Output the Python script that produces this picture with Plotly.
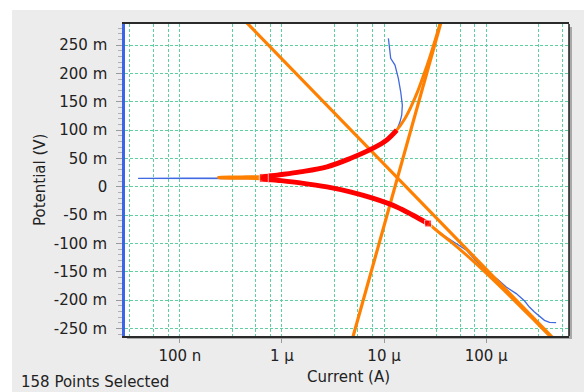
import plotly.graph_objects as go

# ---------------- data ----------------
# measured scan (blue): current (A), potential (V)
blue_current = [4.84e-4, 4.17e-4, 3.72e-4, 3.33e-4, 2.97e-4, 2.65e-4, 2.38e-4, 1.97e-4,
                1.57e-4, 1.30e-4, 1.08e-4, 9.31e-5, 6.41e-5, 5.12e-5, 3.41e-5,
                2.70e-5, 1.92e-5, 1.33e-5, 7.87e-6, 4.66e-6, 2.76e-6, 1.51e-6, 8.97e-7, 6.64e-7,
                2.4e-7, 3.9e-8, 1.2e-7, 2.4e-7, 6.64e-7,
                8.97e-7, 1.51e-6, 2.76e-6, 4.66e-6, 7.82e-6, 1.06e-5, 1.33e-5,
                1.432e-5, 1.489e-5, 1.510e-5, 1.455e-5, 1.380e-5, 1.279e-5, 1.161e-5, 1.127e-5, 1.102e-5]
blue_potential = [-0.2400, -0.2394, -0.2359, -0.2288, -0.2212, -0.2124, -0.2018, -0.1887,
                  -0.1770, -0.1640, -0.1534, -0.1445, -0.1122, -0.1004, -0.0800,
                  -0.0650, -0.0504, -0.0357, -0.0208, -0.0092, -0.0004, 0.0067, 0.0115, 0.0140,
                  0.0146, 0.0148, 0.0149, 0.0151, 0.0165,
                  0.0203, 0.0261, 0.0350, 0.0498, 0.0680, 0.0822, 0.0998,
                  0.1145, 0.1263, 0.1440, 0.1675, 0.1912, 0.2147, 0.2265, 0.2470, 0.2618]

# selected points (red)
red_current = [2.70e-5, 1.92e-5, 1.33e-5, 7.87e-6, 4.66e-6, 2.76e-6, 1.51e-6, 8.97e-7, 6.64e-7,
               6.64e-7, 8.97e-7, 1.51e-6, 2.76e-6, 4.66e-6, 7.82e-6, 1.06e-5, 1.33e-5]
red_potential = [-0.0650, -0.0504, -0.0357, -0.0208, -0.0092, -0.0004, 0.0067, 0.0115, 0.0140,
                 0.0170, 0.0203, 0.0261, 0.0350, 0.0498, 0.0680, 0.0822, 0.0998]

# selection end markers
mark_current = [6.64e-7, 2.70e-5]
mark_potential = [0.0155, -0.0650]

# fitted curve (orange)
fit_current = [4.22e-4, 3.54e-4, 2.415e-4, 1.644e-4, 1.107e-4, 7.33e-5, 4.71e-5, 3.41e-5,
               2.70e-5, 1.92e-5, 1.33e-5, 7.87e-6, 4.66e-6, 2.76e-6, 1.51e-6, 8.97e-7, 6.64e-7,
               4.0e-7, 2.4e-7, 2.4e-7, 4.0e-7, 6.64e-7,
               8.97e-7, 1.51e-6, 2.76e-6, 4.66e-6, 7.82e-6, 1.06e-5, 1.33e-5,
               1.596e-5, 1.824e-5, 2.153e-5, 2.477e-5, 2.82e-5, 3.18e-5, 3.52e-5, 3.6e-5]
fit_potential = [-0.264, -0.250, -0.220, -0.190, -0.160, -0.130, -0.100, -0.080,
                 -0.0650, -0.0504, -0.0357, -0.0208, -0.0092, -0.0004, 0.0067, 0.0115, 0.0140,
                 0.0150, 0.0158, 0.0166, 0.0172, 0.0180,
                 0.0203, 0.0261, 0.0350, 0.0498, 0.0680, 0.0822, 0.0998,
                 0.120, 0.140, 0.170, 0.200, 0.230, 0.260, 0.287, 0.295]

# Tafel lines (orange)
anodic_current = [4.375e-6, 3.74e-5]
anodic_potential = [-0.30, 0.30]
cathodic_current = [3.96e-7, 6.79e-4]
cathodic_potential = [0.30, -0.30]

# axes
x_tickvals = [1e-7, 1e-6, 1e-5, 1e-4]
x_ticktext = ["100 n", "1 µ", "10 µ", "100 µ"]
x_gridvals = [3.25e-8, 5.55e-8, 7.75e-8,
              3.25e-7, 5.55e-7, 7.75e-7,
              3.25e-6, 5.55e-6, 7.75e-6,
              3.25e-5, 5.55e-5, 7.75e-5,
              3.25e-4, 5.55e-4]
y_tickvals = [0.25, 0.20, 0.15, 0.10, 0.05, 0.0, -0.05, -0.10, -0.15, -0.20, -0.25]
y_ticktext = ["250 m", "200 m", "150 m", "100 m", "50 m", "0",
              "-50 m", "-100 m", "-150 m", "-200 m", "-250 m"]

# ---------------- figure ----------------
W, H = 587, 392
L, R, T, B = 125, 18, 24, 56
PW, PH = W - L - R, H - T - B

def px(x):
    return (x - L) / PW

def py(y):
    return (H - B - y) / PH

ORANGE = "#ff8000"
fig = go.Figure()
fig.add_trace(go.Scatter(x=blue_current, y=blue_potential, mode="lines",
                         line=dict(color="#4169e1", width=1.3), showlegend=False))
fig.add_trace(go.Scatter(x=anodic_current, y=anodic_potential, mode="lines",
                         line=dict(color=ORANGE, width=3.2), showlegend=False))
fig.add_trace(go.Scatter(x=cathodic_current, y=cathodic_potential, mode="lines",
                         line=dict(color=ORANGE, width=3.2), showlegend=False))
fig.add_trace(go.Scatter(x=fit_current, y=fit_potential, mode="lines",
                         line=dict(color=ORANGE, width=3, shape="spline", smoothing=0.8),
                         showlegend=False))
fig.add_trace(go.Scatter(x=red_current, y=red_potential, mode="lines",
                         line=dict(color="#ff0000", width=5, shape="spline", smoothing=1),
                         showlegend=False))
fig.add_trace(go.Scatter(x=mark_current, y=mark_potential, mode="markers",
                         marker=dict(color="#ff0000", symbol="square", size=[9, 7]),
                         showlegend=False))

GRID = "#5fcf9f"
fig.update_xaxes(type="log", range=[-7.537, -3.189],
                 tickvals=x_tickvals, ticktext=x_ticktext,
                 ticks="outside", ticklen=5, tickcolor="#9a9a9a", tickwidth=1,
                 showgrid=True, gridcolor=GRID, griddash="3px,2px", gridwidth=1,
                 minor=dict(tickvals=x_gridvals, showgrid=True, gridcolor=GRID,
                            griddash="3px,2px", gridwidth=1, ticks=""),
                 showline=True, linecolor="#2a2a2a", linewidth=2, mirror=True,
                 zeroline=False, ticklabelstandoff=0)
fig.update_yaxes(range=[-0.2635, 0.2871],
                 tickvals=y_tickvals, ticktext=y_ticktext,
                 ticks="outside", ticklen=6, tickcolor="#9a9a9a", tickwidth=1,
                 minor=dict(dtick=0.01, tick0=0, ticks="outside", ticklen=4,
                            tickcolor="#b0b0b0", showgrid=False),
                 showgrid=True, gridcolor=GRID, griddash="3px,2px", gridwidth=1,
                 showline=True, linecolor="#3c64e6", linewidth=2.5,
                 zeroline=False, ticklabelstandoff=6)

shapes = [
    dict(type="rect", xref="paper", yref="paper", x0=px(12), x1=px(584), y0=py(392), y1=py(10),
         fillcolor="#ececec", line=dict(width=0), layer="below"),
    dict(type="rect", xref="paper", yref="paper", x0=px(127), x1=px(572), y0=py(339), y1=py(27),
         fillcolor="#a8a8a8", line=dict(width=0), layer="below"),
    dict(type="rect", xref="paper", yref="paper", x0=0, x1=1, y0=0, y1=1,
         fillcolor="#ffffff", line=dict(width=0), layer="below"),
    dict(type="line", xref="paper", yref="paper", x0=1, x1=1, y0=0, y1=1,
         line=dict(color="#1a1a1a", width=1.5)),
]

annotations = [
    dict(text="Potential (V)", xref="paper", yref="paper", x=px(40), y=0.5,
         textangle=-90, showarrow=False, xanchor="center", yanchor="middle",
         font=dict(size=15, color="#222")),
    dict(text="Current (A)", xref="paper", yref="paper", x=px(348), y=py(376.5),
         showarrow=False, xanchor="center", yanchor="middle",
         font=dict(size=15, color="#222")),
    dict(text="158 Points Selected", xref="paper", yref="paper", x=px(19), y=py(381.5),
         showarrow=False, xanchor="left", yanchor="middle",
         font=dict(size=15, color="#222")),
]

fig.update_layout(width=W, height=H, margin=dict(l=L, r=R, t=T, b=B),
                  paper_bgcolor="#ffffff", plot_bgcolor="#ffffff",
                  font=dict(family="DejaVu Sans", size=15, color="#222"),
                  shapes=shapes, annotations=annotations, showlegend=False)

fig.write_html("out.html")
